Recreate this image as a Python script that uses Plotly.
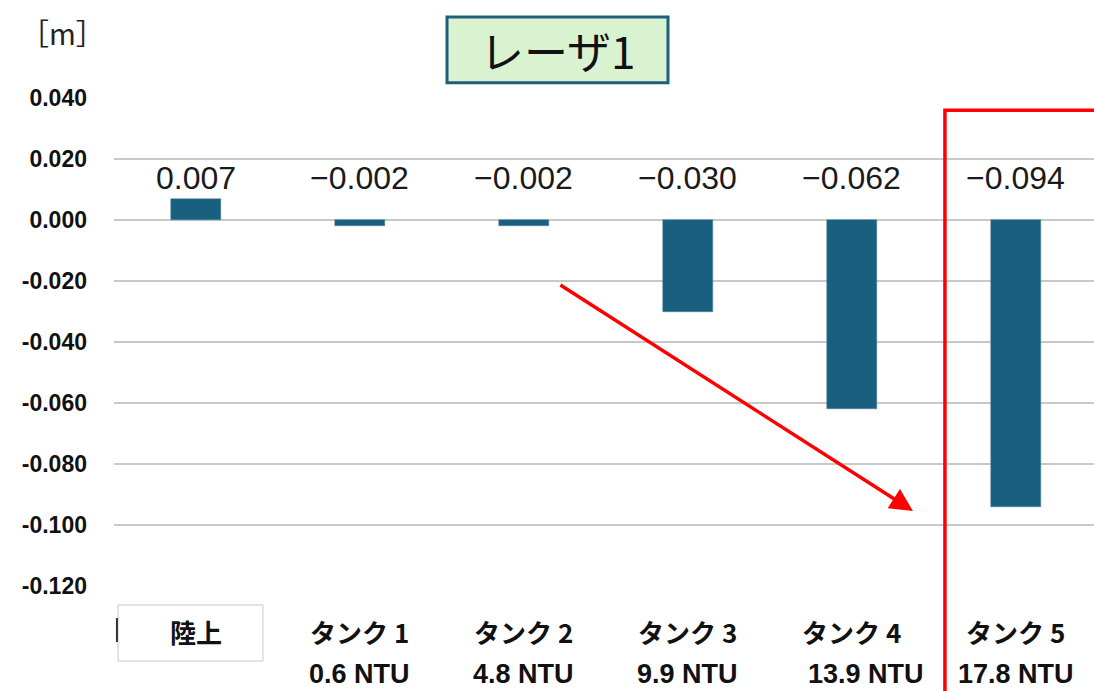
import plotly.graph_objects as go

# Displacement per measurement location [m]
categories = ["陸上", "タンク 1", "タンク 2", "タンク 3", "タンク 4", "タンク 5"]
turbidity = ["", "0.6 NTU", "4.8 NTU", "9.9 NTU", "13.9 NTU", "17.8 NTU"]
values = [0.007, -0.002, -0.002, -0.030, -0.062, -0.094]

tick_vals = [0.04, 0.02, 0.0, -0.02, -0.04, -0.06, -0.08, -0.10, -0.12]
tick_text = ["0.040", "0.020", "0.000", "-0.020", "-0.040", "-0.060", "-0.080", "-0.100", "-0.120"]

BAR = "#185f80"
x = list(range(len(categories)))

fig = go.Figure()
fig.add_trace(go.Bar(
    x=x, y=values, width=0.31,
    marker=dict(color=BAR, line=dict(color="#4f7f98", width=0.5)),
    hoverinfo="skip",
))

annotations = []
# value labels, all on one row above the zero line
for i, v in zip(x, values):
    annotations.append(dict(
        x=i, y=0.0138, xref="x", yref="y",
        text=f"{v:.3f}".replace("-", "\u2212"),
        showarrow=False, yanchor="middle",
        font=dict(family="Liberation Sans, Arial, sans-serif",
                  size=32, color="#1a1a1a"),
    ))

# category names and turbidity under the axis
ntu_shift = {4: 14}
for i, (c, t) in enumerate(zip(categories, turbidity)):
    annotations.append(dict(
        x=i, y=-0.094, xref="x", yref="paper", text=f"<b>{c}</b>",
        showarrow=False, yanchor="middle",
        font=dict(family="Noto Sans CJK JP", size=26, color="#111111"),
    ))
    if t:
        annotations.append(dict(
            x=i, y=-0.2146, xref="x", yref="paper", text=f"<b>{t}</b>",
            xshift=ntu_shift.get(i, 0),
            showarrow=False, yanchor="bottom",
            font=dict(family="Liberation Sans, Arial, sans-serif",
                      size=27, color="#111111"),
        ))

# unit label
annotations.append(dict(
    x=-0.053, y=1.135, xref="paper", yref="paper", text="［m］",
    showarrow=False, xanchor="center", yanchor="middle",
    font=dict(family="Noto Sans CJK JP", size=29, color="#222222"),
))

# title box
annotations.append(dict(
    x=0.4526, y=1.099, xref="paper", yref="paper", text="レーザ1",
    showarrow=False, xanchor="center", yanchor="middle",
    font=dict(family="Noto Sans CJK JP", size=44, color="#111111"),
))

# trend arrow
annotations.append(dict(
    x=4.372, y=-0.0954, xref="x", yref="y",
    ax=2.213, ay=-0.021, axref="x", ayref="y",
    showarrow=True, arrowhead=2, arrowsize=1.3, arrowwidth=3.5,
    arrowcolor="#ff0000", text="",
))

shapes = [
    # title frame
    dict(type="rect", xref="paper", yref="paper",
         x0=0.3398, x1=0.5653, y0=1.031, y1=1.166,
         fillcolor="#d9f2d0", line=dict(color="#1f5f7a", width=3), layer="below"),
    # box around the first category name
    dict(type="rect", xref="paper", yref="paper",
         x0=0.0041, x1=0.152, y0=-0.0389, y1=-0.1537,
         fillcolor="white", line=dict(color="#c8c8c8", width=1), layer="below"),
    dict(type="line", xref="paper", yref="paper",
         x0=0.003, x1=0.003, y0=-0.0656, y1=-0.1148,
         line=dict(color="#333333", width=2)),
    # highlight frame around the last tank
    dict(type="path", xref="x", yref="paper",
         path="M 4.567,-0.26 L 4.567,0.975 L 5.8,0.975",
         line=dict(color="#ff0000", width=3.5)),
]

fig.update_layout(
    width=1094, height=691,
    margin=dict(l=114, r=0, t=98, b=105),
    plot_bgcolor="white", paper_bgcolor="white",
    showlegend=False,
    bargap=0,
    annotations=annotations,
    shapes=shapes,
    xaxis=dict(range=[-0.5, 5.476], showticklabels=False, showgrid=False,
               zeroline=False, showline=False, ticks=""),
    yaxis=dict(range=[-0.12, 0.04], tickvals=tick_vals, ticktext=tick_text,
               showgrid=True, gridcolor="#c8c8c8", gridwidth=2,
               zeroline=False, showline=False, ticks="",
               ticklabelstandoff=26,
               tickfont=dict(family="Liberation Sans, Arial, sans-serif",
                             size=23, color="#111111", weight="bold")),
)

fig.write_html("out.html")
